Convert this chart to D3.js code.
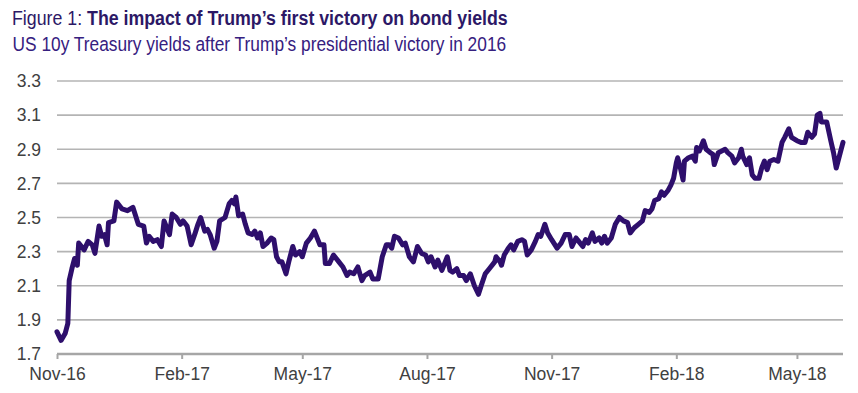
<!DOCTYPE html>
<html>
<head>
    <meta charset="utf-8">
    <title></title>
    <style>
        body {
            margin: 0;
            background: #fff;
        }
        text {
            font-family: "Liberation Sans", Arial, sans-serif;
        }
        .grid line {
            stroke: #b4b4b4;
            stroke-width: 1.6px;
        }
        path.line {
            fill: none;
            stroke: #2e0f6c;
            stroke-width: 5px;
            stroke-linejoin: round;
            stroke-linecap: round;
        }
    </style>
</head>
<body>
    <script type="text/javascript" src="https://d3js.org/d3.v7.min.js"></script>
    <script>
        var titleLead = "Figure 1: ";
        var titleBold = "The impact of Trump\u2019s first victory on bond yields";
        var subtitle = "US 10y Treasury yields after Trump\u2019s presidential victory in 2016";

        var yTicks = [1.7, 1.9, 2.1, 2.3, 2.5, 2.7, 2.9, 3.1, 3.3];
        var xDomain = ["2016-11-08", "2018-06-11"];
        var xTicks = ["2016-11-08", "2017-02-08", "2017-05-08", "2017-08-08", "2017-11-08", "2018-02-08", "2018-05-08"];

        var dates = [
            "2016-11-08", "2016-11-11", "2016-11-14", "2016-11-16", "2016-11-17", "2016-11-19", "2016-11-21", "2016-11-23",
            "2016-11-24", "2016-11-28", "2016-12-01", "2016-12-04", "2016-12-06", "2016-12-09", "2016-12-11", "2016-12-13",
            "2016-12-15", "2016-12-16", "2016-12-20", "2016-12-22", "2016-12-26", "2016-12-30", "2017-01-03", "2017-01-07",
            "2017-01-11", "2017-01-13", "2017-01-15", "2017-01-18", "2017-01-21", "2017-01-24", "2017-01-26", "2017-01-30",
            "2017-02-01", "2017-02-04", "2017-02-07", "2017-02-09", "2017-02-12", "2017-02-15", "2017-02-18", "2017-02-20",
            "2017-02-22", "2017-02-25", "2017-02-27", "2017-03-01", "2017-03-04", "2017-03-06", "2017-03-08", "2017-03-12",
            "2017-03-15", "2017-03-17", "2017-03-19", "2017-03-20", "2017-03-22", "2017-03-25", "2017-03-27", "2017-03-29",
            "2017-04-01", "2017-04-03", "2017-04-05", "2017-04-07", "2017-04-09", "2017-04-12", "2017-04-15", "2017-04-17",
            "2017-04-19", "2017-04-21", "2017-04-23", "2017-04-26", "2017-04-28", "2017-05-01", "2017-05-03", "2017-05-06",
            "2017-05-08", "2017-05-11", "2017-05-14", "2017-05-17", "2017-05-21", "2017-05-24", "2017-05-25", "2017-05-28",
            "2017-05-31", "2017-06-04", "2017-06-07", "2017-06-10", "2017-06-12", "2017-06-15", "2017-06-18", "2017-06-21",
            "2017-06-23", "2017-06-27", "2017-06-29", "2017-07-03", "2017-07-06", "2017-07-09", "2017-07-11", "2017-07-13",
            "2017-07-15", "2017-07-18", "2017-07-21", "2017-07-23", "2017-07-26", "2017-07-29", "2017-08-01", "2017-08-04",
            "2017-08-07", "2017-08-09", "2017-08-11", "2017-08-14", "2017-08-16", "2017-08-19", "2017-08-23", "2017-08-25",
            "2017-08-27", "2017-08-30", "2017-09-01", "2017-09-04", "2017-09-06", "2017-09-09", "2017-09-12", "2017-09-15",
            "2017-09-17", "2017-09-20", "2017-09-23", "2017-09-27", "2017-09-28", "2017-10-01", "2017-10-02", "2017-10-04",
            "2017-10-07", "2017-10-09", "2017-10-11", "2017-10-14", "2017-10-17", "2017-10-19", "2017-10-21", "2017-10-24",
            "2017-10-27", "2017-10-29", "2017-10-31", "2017-11-03", "2017-11-05", "2017-11-08", "2017-11-12", "2017-11-15",
            "2017-11-18", "2017-11-21", "2017-11-23", "2017-11-26", "2017-11-28", "2017-12-01", "2017-12-03", "2017-12-05",
            "2017-12-08", "2017-12-10", "2017-12-13", "2017-12-15", "2017-12-17", "2017-12-19", "2017-12-22", "2017-12-25",
            "2017-12-28", "2017-12-31", "2018-01-03", "2018-01-05", "2018-01-08", "2018-01-11", "2018-01-14", "2018-01-16",
            "2018-01-19", "2018-01-21", "2018-01-23", "2018-01-26", "2018-01-28", "2018-01-30", "2018-02-02", "2018-02-04",
            "2018-02-06", "2018-02-08", "2018-02-09", "2018-02-11", "2018-02-13", "2018-02-14", "2018-02-17", "2018-02-20",
            "2018-02-22", "2018-02-23", "2018-02-25", "2018-02-28", "2018-03-02", "2018-03-05", "2018-03-07", "2018-03-08",
            "2018-03-11", "2018-03-16", "2018-03-18", "2018-03-21", "2018-03-23", "2018-03-26", "2018-03-28", "2018-03-29",
            "2018-04-01", "2018-04-03", "2018-04-05", "2018-04-07", "2018-04-10", "2018-04-12", "2018-04-14", "2018-04-16",
            "2018-04-18", "2018-04-21", "2018-04-24", "2018-04-27", "2018-04-29", "2018-05-02", "2018-05-04", "2018-05-08",
            "2018-05-11", "2018-05-14", "2018-05-16", "2018-05-19", "2018-05-21", "2018-05-23", "2018-05-25", "2018-05-26",
            "2018-05-30", "2018-06-02", "2018-06-04", "2018-06-06", "2018-06-09", "2018-06-11"
        ];

        var yields = [
            1.83, 1.78, 1.82, 1.88, 2.13, 2.20, 2.26, 2.22,
            2.35, 2.31, 2.36, 2.34, 2.29, 2.45, 2.39, 2.40,
            2.34, 2.47, 2.48, 2.59, 2.55, 2.54, 2.56, 2.46,
            2.45, 2.35, 2.39, 2.36, 2.37, 2.33, 2.48, 2.40,
            2.52, 2.50, 2.46, 2.48, 2.45, 2.34, 2.41, 2.46,
            2.50, 2.42, 2.43, 2.40, 2.32, 2.36, 2.48, 2.50,
            2.58, 2.60, 2.58, 2.62, 2.51, 2.52, 2.46, 2.41,
            2.40, 2.42, 2.38, 2.41, 2.33, 2.35, 2.38, 2.37,
            2.27, 2.24, 2.24, 2.17, 2.24, 2.33, 2.28, 2.30,
            2.27, 2.35, 2.38, 2.42, 2.34, 2.34, 2.23, 2.23,
            2.28, 2.24, 2.21, 2.16, 2.18, 2.17, 2.21, 2.13,
            2.16, 2.18, 2.14, 2.14, 2.27, 2.34, 2.34, 2.32,
            2.39, 2.38, 2.34, 2.35, 2.27, 2.24, 2.33, 2.29,
            2.28, 2.24, 2.27, 2.21, 2.25, 2.19, 2.27, 2.19,
            2.18, 2.20, 2.16, 2.16, 2.13, 2.17, 2.10, 2.05,
            2.10, 2.17, 2.20, 2.24, 2.27, 2.24, 2.22, 2.28,
            2.32, 2.34, 2.31, 2.36, 2.37, 2.36, 2.28, 2.31,
            2.36, 2.40, 2.39, 2.46, 2.41, 2.37, 2.32, 2.35,
            2.40, 2.40, 2.33, 2.38, 2.36, 2.33, 2.37, 2.35,
            2.41, 2.36, 2.38, 2.35, 2.39, 2.35, 2.38, 2.46,
            2.50, 2.48, 2.47, 2.41, 2.44, 2.46, 2.48, 2.54,
            2.53, 2.55, 2.60, 2.61, 2.65, 2.63, 2.66, 2.69,
            2.73, 2.82, 2.85, 2.79, 2.72, 2.83, 2.85, 2.86,
            2.83, 2.91, 2.89, 2.95, 2.90, 2.88, 2.87, 2.81,
            2.88, 2.90, 2.88, 2.86, 2.82, 2.85, 2.90, 2.86,
            2.81, 2.85, 2.75, 2.73, 2.73, 2.79, 2.83, 2.78,
            2.83, 2.84, 2.83, 2.94, 2.97, 3.02, 2.97, 2.95,
            2.94, 2.94, 3.00, 2.97, 2.99, 3.10, 3.11, 3.06,
            3.06, 2.95, 2.88, 2.79, 2.88, 2.94
        ];

        var width = 858,
            height = 393;
        var margin = { top: 81, right: 15, bottom: 39, left: 57 };

        var parseDate = d3.timeParse("%Y-%m-%d");
        var data = dates.map(function(d, i) {
            return { date: parseDate(d), value: yields[i] };
        });

        var svg = d3.select("body").append("svg")
            .attr("width", width)
            .attr("height", height);

        var x = d3.scaleTime()
            .domain(xDomain.map(parseDate))
            .range([margin.left, width - margin.right]);
        var y = d3.scaleLinear()
            .domain([1.7, 3.3])
            .range([height - margin.bottom, margin.top]);

        // titles (the source text is set narrower than plain Arial, so squeeze to fit)
        function fitWidth(sel, left, w) {
            var bw = sel.node().getBBox().width;
            sel.attr("x", 0)
                .attr("transform", "translate(" + left + ",0) scale(" + (w / bw) + ",1)");
        }

        var title = svg.append("text")
            .attr("y", 25)
            .attr("fill", "#2c1866")
            .style("font-size", "20.5px");
        title.append("tspan").text(titleLead);
        title.append("tspan").attr("font-weight", "bold").text(titleBold);
        fitWidth(title, 12, 496);

        var sub = svg.append("text")
            .attr("y", 51)
            .attr("fill", "#36207f")
            .style("font-size", "19.5px")
            .text(subtitle);
        fitWidth(sub, 12.5, 494);

        // horizontal gridlines
        svg.append("g")
            .attr("class", "grid")
            .selectAll("line")
            .data(yTicks.filter(function(d) { return d > 1.7; }))
            .enter()
            .append("line")
            .attr("x1", margin.left)
            .attr("x2", width - margin.right)
            .attr("y1", function(d) { return y(d); })
            .attr("y2", function(d) { return y(d); });

        // y labels
        svg.append("g")
            .selectAll("text")
            .data(yTicks)
            .enter()
            .append("text")
            .attr("x", 41)
            .attr("y", function(d) { return y(d); })
            .attr("dy", "0.36em")
            .attr("text-anchor", "end")
            .attr("fill", "#404040")
            .style("font-size", "17.5px")
            .text(function(d) { return d.toFixed(1); });

        // x axis
        var xAxis = d3.axisBottom(x)
            .tickValues(xTicks.map(parseDate))
            .tickFormat(d3.timeFormat("%b-%y"))
            .tickSize(5)
            .tickPadding(9);
        var gx = svg.append("g")
            .attr("transform", "translate(0," + y(1.7) + ")")
            .call(xAxis);
        gx.select(".domain")
            .attr("stroke", "#a6a6a6")
            .attr("stroke-width", 2.5)
            .attr("d", "M" + margin.left + ",0H" + (width - margin.right));
        gx.selectAll(".tick line")
            .attr("stroke", "#a6a6a6")
            .attr("stroke-width", 2);
        gx.selectAll(".tick text")
            .attr("fill", "#404040")
            .style("font-family", "'Liberation Sans', Arial, sans-serif")
            .style("font-size", "17.5px");

        // yield line
        var line = d3.line()
            .x(function(d) { return x(d.date); })
            .y(function(d) { return y(d.value); });
        svg.append("path")
            .datum(data)
            .attr("class", "line")
            .attr("d", line);
    </script>
</body>
</html>
